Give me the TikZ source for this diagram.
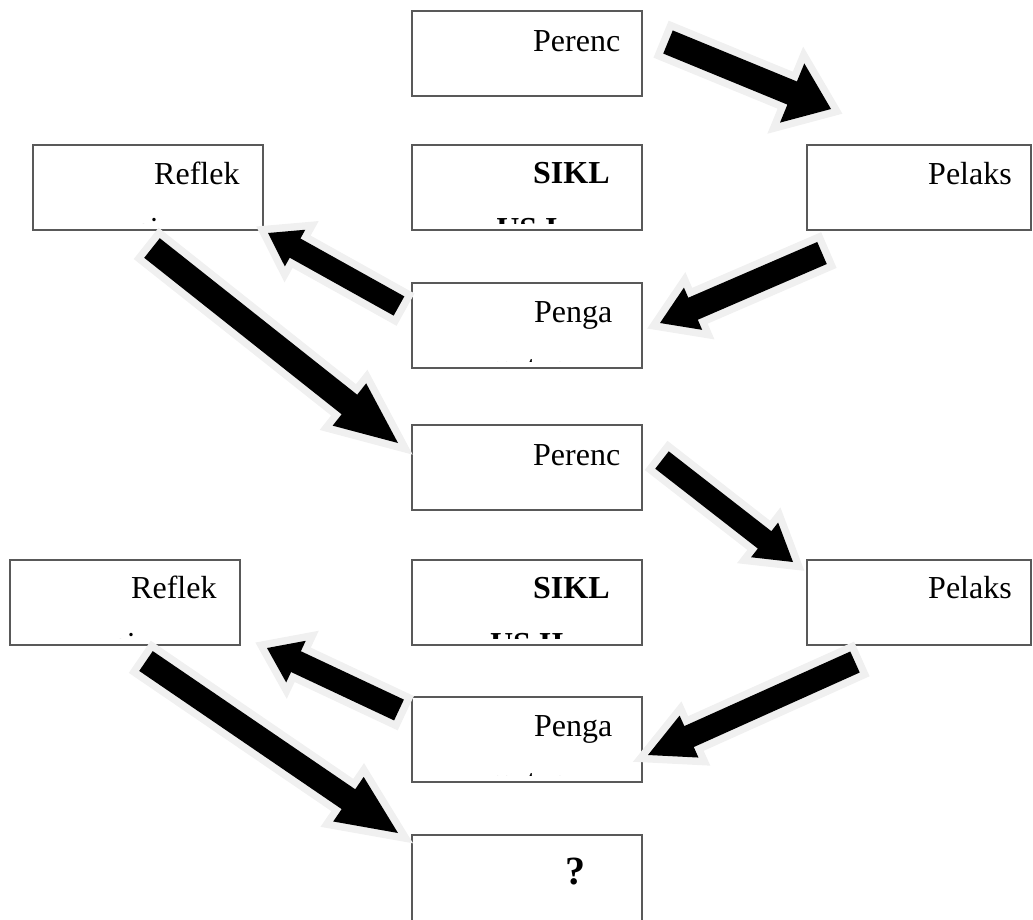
\documentclass[tikz,border=0pt]{standalone}
\usepackage{fontspec}
\setmainfont{Liberation Serif}
\usetikzlibrary{calc}
\newcommand{\blockarrow}[5]{%
  \coordinate (hb) at ($(#2)!#5pt!(#1)$);
  \path[bigarrow] ($(#1)!#3pt!90:(#2)$) -- ($(hb)!#3pt!90:(#2)$) -- ($(hb)!#4pt!90:(#2)$) -- (#2)
    -- ($(hb)!#4pt!-90:(#2)$) -- ($(hb)!#3pt!-90:(#2)$) -- ($(#1)!#3pt!-90:(#2)$) -- cycle;
}
\begin{document}
\begin{tikzpicture}[x=1pt,y=-1pt,
    box/.style={draw=black!65,line width=1.2pt,minimum width=230pt,minimum height=85pt,anchor=north west,inner sep=0pt,outer sep=0pt},
    txt/.style={anchor=base west,inner sep=0pt,font=\fontsize{32}{38}\selectfont},
    cut/.style={anchor=base,inner sep=0pt,font=\fontsize{32}{38}\selectfont},
    bigarrow/.style={fill=black,preaction={draw=black!6,line width=15pt,line join=miter}}]
        \useasboundingbox (0,0) rectangle (1033,919);

        \node[box] (per1) at (412,11) {};
        \node[box] (sik1) at (412,145) {};
        \node[box] (ref1) at (33,145) {};
        \node[box,minimum width=224pt] (pel1) at (807,145) {};
        \node[box] (pen1) at (412,283) {};
        \node[box] (per2) at (412,425) {};
        \node[box] (ref2) at (10,560) {};
        \node[box] (sik2) at (412,560) {};
        \node[box,minimum width=224pt] (pel2) at (807,560) {};
        \node[box] (pen2) at (412,697) {};
        \node[box,minimum height=95pt] (qst) at (412,835) {};

        \node[txt] (per1t) at ([shift={(121,40)}]per1.north west) {Perenc};
        \node[txt] (sik1t) at ([shift={(121,38)}]sik1.north west) {\bfseries SIKL};
        \node[txt] (ref1t) at ([shift={(121,39)}]ref1.north west) {Reflek};
        \node[txt] (pel1t) at ([shift={(121,39)}]pel1.north west) {Pelaks};
        \node[txt] (pen1t) at ([shift={(122,39)}]pen1.north west) {Penga};
        \node[txt] (per2t) at ([shift={(121,40)}]per2.north west) {Perenc};
        \node[txt] (ref2t) at ([shift={(121,38)}]ref2.north west) {Reflek};
        \node[txt] (sik2t) at ([shift={(121,38)}]sik2.north west) {\bfseries SIKL};
        \node[txt] (pel2t) at ([shift={(121,38)}]pel2.north west) {Pelaks};
        \node[txt] (pen2t) at ([shift={(122,39)}]pen2.north west) {Penga};
        \node[txt,font=\fontsize{40}{46}\selectfont] (qstt) at ([shift={(153,49)}]qst.north west) {\bfseries ?};

        \begin{scope}
            \clip (sik1.north west) rectangle ([yshift=7pt]sik1.south east);
            \node[cut] (sik1u) at ([yshift=-94pt]sik1.north) {\bfseries US I};
        \end{scope}
        \begin{scope}
            \clip (sik2.north west) rectangle ([yshift=7pt]sik2.south east);
            \node[cut] (sik2u) at ([yshift=-94pt]sik2.north) {\bfseries US II};
        \end{scope}
        \begin{scope}
            \clip (ref1.north west) rectangle ([yshift=7pt]ref1.south east);
            \node[cut] (ref1u) at ([yshift=-94pt]ref1.north) {si};
        \end{scope}
        \begin{scope}
            \clip (ref2.north west) rectangle ([yshift=7pt]ref2.south east);
            \node[cut] (ref2u) at ([yshift=-94pt]ref2.north) {si};
        \end{scope}
        \begin{scope}
            \clip (pen1.north west) rectangle ([yshift=7pt]pen1.south east);
            \node[cut] (pen1u) at ([yshift=-94pt]pen1.north) {matan};
        \end{scope}
        \begin{scope}
            \clip (pen2.north west) rectangle ([yshift=7pt]pen2.south east);
            \node[cut] (pen2u) at ([yshift=-94pt]pen2.north) {matan};
        \end{scope}

        \coordinate (a1s) at (668,42);  \coordinate (a1e) at (831,109);
        \coordinate (a2s) at (822,253); \coordinate (a2e) at (660,323);
        \coordinate (a3s) at (399,306); \coordinate (a3e) at (268,233);
        \coordinate (a4s) at (152,248); \coordinate (a4e) at (398,443);
        \coordinate (a5s) at (662,460); \coordinate (a5e) at (793,562);
        \coordinate (a6s) at (855,662); \coordinate (a6e) at (648,755);
        \coordinate (a7s) at (399,710); \coordinate (a7e) at (267,648);
        \coordinate (a8s) at (146,661); \coordinate (a8e) at (398,833);

        \blockarrow{a1s}{a1e}{12.5}{32}{42}
        \blockarrow{a2s}{a2e}{12}{23}{36}
        \blockarrow{a3s}{a3e}{11}{21}{31}
        \blockarrow{a4s}{a4e}{12.5}{27}{62}
        \blockarrow{a5s}{a5e}{11}{22}{36}
        \blockarrow{a6s}{a6e}{11.5}{23}{45}
        \blockarrow{a7s}{a7e}{11.5}{23}{32}
        \blockarrow{a8s}{a8e}{12}{27}{60}
\end{tikzpicture}
\end{document}
